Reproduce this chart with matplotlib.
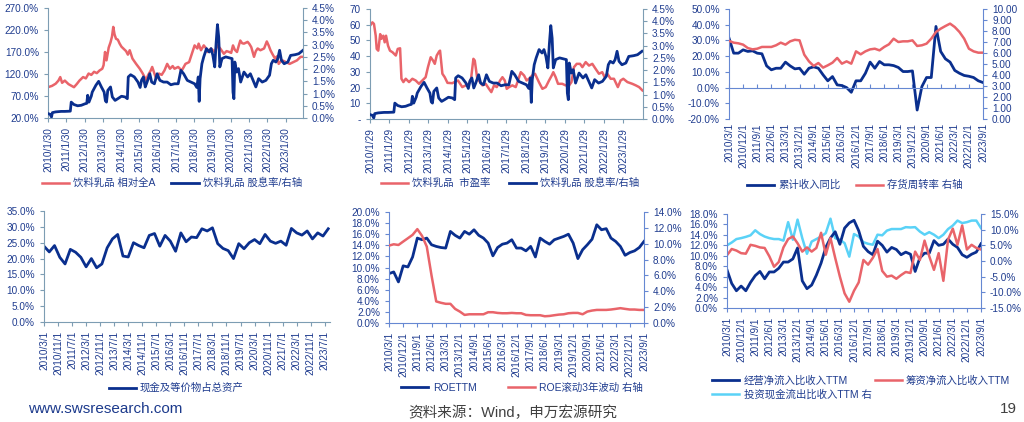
import matplotlib
matplotlib.use("Agg")
import matplotlib.pyplot as plt
import numpy as np
from matplotlib.ticker import FuncFormatter, MultipleLocator, FixedLocator

plt.rcParams['font.family'] = ['Liberation Sans', 'Noto Sans CJK SC', 'DejaVu Sans']

# ---------------- DATA ----------------
# Chart 1/2 : weekly series (decimal year, value)
yield_t = [2010.08, 2010.2, 2010.27, 2010.32, 2010.5, 2010.8, 2011.0, 2011.3, 2011.35, 2011.5, 2011.7, 2011.9,
           2012.1, 2012.2, 2012.25, 2012.32, 2012.45, 2012.5, 2012.7, 2012.85, 2013.0, 2013.15, 2013.22, 2013.28,
           2013.35, 2013.5, 2013.6, 2013.75, 2013.9, 2014.1, 2014.3, 2014.42, 2014.47, 2014.6, 2014.8, 2015.0,
           2015.12, 2015.2, 2015.3, 2015.4, 2015.5, 2015.65, 2015.75, 2015.9, 2016.05, 2016.2, 2016.4, 2016.6,
           2016.8, 2017.0, 2017.2, 2017.35, 2017.5, 2017.7, 2017.9, 2018.1, 2018.22, 2018.3, 2018.35, 2018.4,
           2018.5, 2018.6, 2018.75, 2018.9, 2019.0, 2019.1, 2019.2, 2019.28, 2019.35, 2019.42, 2019.48, 2019.6,
           2019.8, 2020.0, 2020.15, 2020.2, 2020.25, 2020.3, 2020.4, 2020.5, 2020.62, 2020.8, 2021.0, 2021.15,
           2021.3, 2021.45, 2021.6, 2021.8, 2022.0, 2022.2, 2022.3, 2022.4, 2022.55, 2022.65, 2022.75, 2022.85,
           2023.0, 2023.2, 2023.35, 2023.6, 2023.8, 2024.03]
yield_v = [0.18, 0.15, 0.04, 0.22, 0.25, 0.27, 0.27, 0.28, 0.65, 0.55, 0.50, 0.52,
           0.58, 0.60, 0.93, 0.65, 0.90, 1.06, 1.34, 1.50, 1.27, 1.06, 0.70, 0.65,
           1.13, 1.27, 0.86, 0.72, 0.79, 0.89, 0.86, 0.79, 1.68, 1.77, 1.68, 1.47,
           1.25, 1.55, 1.68, 1.27, 1.47, 1.81, 1.47, 1.40, 1.81, 1.54, 1.47, 1.47,
           1.36, 1.40, 1.40, 1.95, 1.81, 1.54, 1.47, 1.40, 1.25, 1.68, 0.68, 1.61,
           2.22, 2.50, 2.84, 2.70, 2.84, 2.56, 2.09, 3.10, 3.82, 3.30, 2.09, 2.43,
           2.50, 2.46, 2.43, 1.06, 0.79, 2.29, 1.88, 2.02, 1.47, 1.88, 1.68, 1.81,
           1.54, 1.27, 1.61, 1.47, 1.54, 1.75, 2.22, 2.36, 2.29, 2.43, 2.77, 2.36,
           2.22, 2.29, 2.56, 2.59, 2.63, 2.77]

rel_t = [2010.08, 2010.3, 2010.5, 2010.65, 2010.75, 2010.85, 2011.0, 2011.2, 2011.5, 2011.65, 2011.8, 2012.0,
         2012.15, 2012.3, 2012.45, 2012.6, 2012.75, 2012.9, 2013.05, 2013.12, 2013.2, 2013.28, 2013.4, 2013.5,
         2013.58, 2013.65, 2013.72, 2013.8, 2013.9, 2014.0, 2014.1, 2014.2, 2014.35, 2014.45, 2014.55, 2014.7,
         2014.9, 2015.1, 2015.25, 2015.35, 2015.45, 2015.55, 2015.7, 2015.78, 2015.9, 2016.0, 2016.15, 2016.3,
         2016.45, 2016.6, 2016.75, 2016.9, 2017.0, 2017.2, 2017.4, 2017.6, 2017.8, 2017.95, 2018.1, 2018.25,
         2018.32, 2018.45, 2018.6, 2018.7, 2018.8, 2019.0, 2019.2, 2019.35, 2019.5, 2019.7, 2019.85, 2020.0,
         2020.1, 2020.2, 2020.3, 2020.42, 2020.52, 2020.6, 2020.7, 2020.8, 2021.0, 2021.1, 2021.2, 2021.35,
         2021.45, 2021.55, 2021.7, 2021.9, 2022.05, 2022.15, 2022.25, 2022.35, 2022.5, 2022.6, 2022.7, 2022.8,
         2022.9, 2023.1, 2023.3, 2023.5, 2023.7, 2023.9, 2024.03]
rel_v = [90, 93, 98, 105, 113, 100, 105, 97, 90, 97, 105, 113,
         110, 121, 118, 125, 122, 128, 132, 140, 170, 151, 180, 192,
         205, 227, 210, 200, 198, 189, 182, 178, 172, 164, 174, 155,
         143, 132, 122, 114, 106, 117, 128, 136, 121, 109, 121, 118,
         128, 143, 132, 138, 132, 136, 128, 143, 147, 166, 185, 178,
         189, 174, 185, 180, 170, 178, 170, 185, 178, 166, 172, 170,
         168, 185, 175, 170, 185, 196, 190, 189, 193, 188, 181, 159,
         172, 178, 174, 178, 194, 185, 174, 166, 155, 160, 143, 148,
         151, 147, 143, 147, 151, 159, 159]

pe_t = [2010.08, 2010.2, 2010.28, 2010.37, 2010.42, 2010.5, 2010.6, 2010.66, 2010.76, 2010.83, 2010.9, 2011.0,
        2011.1, 2011.23, 2011.4, 2011.5, 2011.62, 2011.69, 2011.79, 2011.91, 2012.08, 2012.25, 2012.42, 2012.59,
        2012.76, 2012.93, 2013.05, 2013.19, 2013.31, 2013.4, 2013.5, 2013.62, 2013.67, 2013.79, 2013.91, 2014.05,
        2014.3, 2014.47, 2014.59, 2014.81, 2014.99, 2015.16, 2015.26, 2015.38, 2015.45, 2015.58, 2015.72, 2015.84,
        2016.01, 2016.18, 2016.3, 2016.44, 2016.58, 2016.75, 2016.87, 2016.99, 2017.09, 2017.21, 2017.38, 2017.55,
        2017.67, 2017.81, 2017.98, 2018.11, 2018.23, 2018.4, 2018.54, 2018.74, 2018.92, 2019.09, 2019.26, 2019.4,
        2019.48, 2019.6, 2019.72, 2019.94, 2020.11, 2020.29, 2020.41, 2020.54, 2020.68, 2020.85, 2020.97, 2021.14,
        2021.31, 2021.48, 2021.65, 2021.82, 2021.99, 2022.11, 2022.25, 2022.42, 2022.59, 2022.79, 2022.93, 2023.07,
        2023.28, 2023.53, 2023.71, 2023.88, 2024.05]
pe_v = [59.4, 61.5, 60.5, 53.0, 44.6, 43.5, 54.0, 51.0, 53.0, 48.8, 53.0, 46.7,
        43.5, 42.5, 40.4, 44.6, 45.0, 25.6, 23.5, 25.6, 23.5, 25.6, 24.5, 22.4,
        24.5, 26.6, 33.0, 39.3, 37.2, 35.1, 40.4, 42.9, 43.5, 28.8, 26.6, 23.0,
        22.8, 23.9, 24.5, 20.3, 21.4, 22.4, 25.6, 38.3, 37.2, 25.6, 23.5, 21.4,
        22.4, 19.2, 17.1, 21.4, 20.3, 24.5, 26.6, 24.5, 19.2, 20.3, 21.4, 20.3,
        24.5, 29.8, 27.7, 24.5, 25.6, 27.7, 28.8, 23.5, 19.2, 20.3, 24.5, 27.7,
        29.8, 26.6, 22.4, 22.4, 21.4, 21.4, 23.5, 33.0, 35.1, 35.1, 33.0, 36.2,
        34.0, 35.1, 31.9, 28.8, 29.8, 26.6, 28.8, 25.6, 25.6, 20.3, 24.5, 25.6,
        23.5, 22.4, 21.4, 20.3, 18.2]

# Quarterly series, 2010/3 .. 2023/9 (55 quarters)
rev_yoy = [31.5, 21.9, 21.9, 24.0, 23.0, 23.4, 21.9, 21.5, 13.8, 11.3, 12.3, 12.3, 16.2, 13.8, 11.9, 12.3,
           8.5, 12.3, 13.2, 12.3, 8.1, 4.3, 7.0, 1.7, 1.3, 0.0, -3.0, 4.3, 4.3, 9.1, 16.2, 12.3, 16.6, 14.5,
           14.5, 14.0, 12.8, 10.2, 10.2, 10.6, -14.3, 0.6, 6.4, 6.4, 38.9, 23.0, 18.3, 16.2, 10.9, 9.1, 7.7,
           7.2, 6.4, 4.3, 3.2]
inv_turn = [7.10, 6.94, 6.88, 6.76, 6.45, 6.33, 6.39, 6.55, 6.55, 6.55, 6.70, 6.94, 6.76, 7.06, 7.20, 7.15,
            5.85, 5.24, 4.82, 5.09, 4.67, 4.88, 5.12, 5.55, 5.03, 5.24, 5.03, 6.15, 5.88, 6.15, 6.33, 6.39,
            6.24, 6.55, 6.79, 7.30, 7.00, 7.06, 7.06, 7.15, 6.64, 6.70, 6.85, 7.30, 7.91, 8.21, 8.45, 8.67,
            8.36, 7.91, 7.30, 6.39, 6.15, 6.03, 6.03]
cash_ratio = [23.9, 22.1, 24.1, 20.4, 18.3, 22.9, 22.0, 20.4, 17.4, 20.0, 17.1, 18.3, 23.4, 26.2, 27.6, 20.8,
              20.5, 25.0, 24.1, 23.4, 27.3, 27.9, 23.9, 27.3, 25.5, 22.3, 28.1, 25.3, 26.8, 26.6, 29.4, 28.7,
              29.7, 24.7, 23.2, 22.5, 20.0, 24.7, 23.1, 25.0, 26.0, 24.7, 27.6, 25.5, 24.8, 25.5, 24.2, 29.5,
              28.1, 27.4, 28.7, 26.2, 28.1, 27.1, 29.4]
roe_ttm = [8.9, 9.2, 7.4, 10.3, 10.1, 11.9, 15.3, 15.0, 15.3, 14.1, 13.8, 13.6, 13.5, 16.5, 15.8, 15.3,
           16.5, 16.0, 16.8, 15.8, 15.3, 14.4, 12.1, 13.6, 14.2, 14.4, 15.0, 13.5, 13.5, 13.0, 13.8, 11.9,
           15.3, 14.7, 14.2, 15.0, 15.3, 15.6, 16.0, 14.4, 11.6, 13.2, 14.1, 15.1, 17.7, 16.8, 17.0, 15.3,
           14.7, 13.8, 12.2, 12.7, 13.0, 13.6, 14.7]
roe_vol = [9.76, 9.93, 9.84, 10.27, 10.69, 11.12, 11.84, 10.99, 9.63, 6.02, 2.72, 2.55, 2.42, 2.42, 1.78, 1.44,
           1.02, 1.10, 1.10, 1.10, 1.10, 1.36, 1.36, 1.27, 1.23, 1.23, 1.27, 1.23, 1.23, 1.02, 0.98, 0.98,
           0.98, 0.85, 0.89, 0.98, 1.06, 1.10, 1.23, 1.27, 1.27, 1.10, 1.44, 1.57, 1.65, 1.65, 1.65, 1.70,
           1.78, 1.87, 1.78, 1.70, 1.70, 1.65, 1.65]
ocf_ratio = [7.3, 4.7, 3.3, 4.2, 3.3, 4.9, 6.2, 7.0, 5.6, 6.9, 6.9, 7.6, 8.8, 8.8, 9.4, 11.5,
             5.2, 3.7, 4.4, 6.3, 8.6, 11.6, 13.4, 14.6, 12.2, 15.3, 16.3, 16.8, 14.8, 11.8, 10.8, 10.2,
             12.8, 12.0, 10.7, 11.6, 11.2, 10.2, 10.7, 10.3, 7.0, 9.6, 10.5, 10.5, 12.9, 12.0, 12.2, 13.2,
             12.2, 11.6, 10.2, 9.7, 10.3, 10.7, 12.3]
fin_ratio = [10.1, 11.3, 11.0, 10.5, 10.4, 12.1, 11.9, 11.6, 11.5, 9.9, 7.9, 8.8, 11.6, 13.2, 13.7, 12.4,
             10.8, 11.6, 10.8, 11.5, 14.4, 10.2, 13.4, 9.6, 6.0, 2.8, 1.2, 3.3, 4.9, 9.2, 8.3, 9.6,
             11.3, 7.1, 6.0, 6.2, 5.6, 6.3, 6.9, 6.7, 10.8, 9.2, 12.9, 9.9, 7.3, 10.5, 5.2, 13.1,
             15.2, 12.1, 15.8, 11.2, 12.1, 11.5, 11.2]
inv_ratio = [5.0, 5.9, 7.0, 7.3, 7.7, 8.2, 9.8, 8.6, 7.8, 7.3, 7.0, 7.0, 6.5, 12.4, 6.8, 13.2,
             7.3, 2.3, 6.2, 7.0, 7.8, 8.9, 13.5, 7.3, 6.8, 5.7, 1.4, 8.6, 7.8, 6.0, 5.5, 5.2,
             8.4, 8.2, 9.7, 10.2, 10.2, 10.2, 10.8, 10.7, 10.8, 9.4, 8.4, 9.2, 8.4, 7.3, 8.4, 10.2,
             11.3, 12.9, 12.1, 12.4, 12.9, 12.9, 10.5]

# ---------------- STYLE ----------------
W, H = 1024, 422
NAVY = '#0a2f8e'
RED = '#e9646a'
LBLUE = '#5ad2f7'
TXT = '#1f3c8f'
SPINE1 = '#7d9db3'
SPINE2 = '#6688d2'
FS = 7.2

fig = plt.figure(figsize=(W / 100, H / 100), dpi=100)


def box(l, r, t, b):
    return [l / W, 1 - b / H, (r - l) / W, (b - t) / H]


def style(ax, spine_col, right=None):
    for s in ['top', 'right']:
        ax.spines[s].set_visible(False)
    ax.spines['left'].set_color(spine_col)
    ax.spines['bottom'].set_color(spine_col)
    ax.tick_params(axis='both', colors=spine_col, labelcolor=TXT, labelsize=FS, length=3, width=0.8)
    if right is not None:
        for s in ['top', 'left', 'bottom']:
            right.spines[s].set_visible(False)
        right.spines['right'].set_color(spine_col)
        right.tick_params(axis='y', colors=spine_col, labelcolor=TXT, labelsize=FS, length=3, width=0.8)


pct1 = FuncFormatter(lambda v, p: f"{v:.1f}%")
LEG = dict(frameon=False, fontsize=7.5, handlelength=2.6, handletextpad=0.4, labelcolor=TXT)

# ---- Chart 1 ----
ax1 = fig.add_axes(box(48, 303, 8, 118))
ax1r = ax1.twinx()
l1, = ax1.plot(rel_t, rel_v, color=RED, lw=1.8)
l2, = ax1r.plot(yield_t, yield_v, color=NAVY, lw=2.0)
ax1.set_ylim(20, 270)
ax1.yaxis.set_major_locator(FixedLocator(np.arange(20, 271, 50)))
ax1.yaxis.set_major_formatter(pct1)
ax1r.set_ylim(0, 4.5)
ax1r.yaxis.set_major_locator(MultipleLocator(0.5))
ax1r.yaxis.set_major_formatter(pct1)
ax1.set_xlim(2010 + 29 / 365, 2024.03)
yrs = np.arange(2010, 2024)
ax1.set_xticks(yrs + 29 / 365)
ax1.set_xticklabels([f"{y}/1/30" for y in yrs], rotation=90)
style(ax1, SPINE1, ax1r)
fig.legend([l1, l2], ['饮料乳品 相对全A', '饮料乳品 股息率/右轴'], loc='center', ncol=2,
           bbox_to_anchor=(172 / W, 1 - 183 / H), columnspacing=1.5, **LEG)

# ---- Chart 2 ----
ax2 = fig.add_axes(box(370, 643, 9, 119))
ax2r = ax2.twinx()
m1, = ax2.plot(pe_t, pe_v, color=RED, lw=1.8)
m2, = ax2r.plot(yield_t, yield_v, color=NAVY, lw=2.0)
ax2.set_ylim(0, 70)
ax2.yaxis.set_major_locator(MultipleLocator(10))
ax2.yaxis.set_major_formatter(FuncFormatter(lambda v, p: '-' if abs(v) < 1e-9 else f"{v:.0f}"))
ax2r.set_ylim(0, 4.5)
ax2r.yaxis.set_major_locator(MultipleLocator(0.5))
ax2r.yaxis.set_major_formatter(pct1)
ax2.set_xlim(2010 + 28 / 365, 2024.08)
ax2.set_xticks(yrs + 28 / 365)
ax2.set_xticklabels([f"{y}/1/29" for y in yrs], rotation=90)
style(ax2, SPINE1, ax2r)
fig.legend([m1, m2], ['饮料乳品  市盈率', '饮料乳品 股息率/右轴'], loc='center', ncol=2,
           bbox_to_anchor=(510 / W, 1 - 183 / H), columnspacing=1.8, **LEG)

# quarterly labels
def qlabel(i):
    y = 2010 + (2 + 3 * i) // 12
    m = (2 + 3 * i) % 12 + 1
    return f"{y}/{m}/1"

qx = np.arange(55)
q9 = qx[::3]

# ---- Chart 3 ----
ax3 = fig.add_axes(box(729, 983, 9, 119))
ax3r = ax3.twinx()
n1, = ax3.plot(qx, rev_yoy, color=NAVY, lw=2.0)
n2, = ax3r.plot(qx, inv_turn, color=RED, lw=1.8)
ax3.set_ylim(-20, 50)
ax3.yaxis.set_major_locator(MultipleLocator(10))
ax3.yaxis.set_major_formatter(pct1)
ax3r.set_ylim(0, 10)
ax3r.yaxis.set_major_locator(MultipleLocator(1))
ax3r.yaxis.set_major_formatter(FuncFormatter(lambda v, p: f"{v:.2f}"))
ax3.set_xlim(0, 54)
style(ax3, SPINE2, ax3r)
ax3.spines['bottom'].set_position(('data', 0))
ax3.set_xticks(q9)
ax3.tick_params(axis='x', labelbottom=False, direction='in', length=3)
sec = ax3.secondary_xaxis(-0.0)
sec.spines['bottom'].set_visible(False)
sec.set_xticks(q9)
sec.set_xticklabels([qlabel(i) for i in q9], rotation=90)
sec.tick_params(axis='x', length=0, labelsize=FS, labelcolor=TXT, pad=3)
fig.legend([n1, n2], ['累计收入同比', '存货周转率 右轴'], loc='center', ncol=2,
           bbox_to_anchor=(855 / W, 1 - 185 / H), columnspacing=1.5, **LEG)

# ---- Chart 4 ----
ax4 = fig.add_axes(box(44, 330, 211, 322))
mx = np.arange(55) * 3
p1, = ax4.plot(mx, cash_ratio, color=NAVY, lw=2.0)
ax4.set_ylim(0, 35)
ax4.yaxis.set_major_locator(MultipleLocator(5))
ax4.yaxis.set_major_formatter(pct1)
ax4.set_xlim(0, 163)
m8 = np.arange(0, 161, 8)
ax4.set_xticks(m8)
ax4.set_xticklabels([f"{2010 + (2 + m) // 12}/{(2 + m) % 12 + 1}/1" for m in m8], rotation=90)
style(ax4, SPINE1)
fig.legend([p1], ['现金及等价物占总资产'], loc='center', ncol=1,
           bbox_to_anchor=(176 / W, 1 - 388 / H), **LEG)

# ---- Chart 5 ----
ax5 = fig.add_axes(box(389, 644, 212, 323))
ax5r = ax5.twinx()
r1, = ax5.plot(qx, roe_ttm, color=NAVY, lw=2.0)
r2, = ax5r.plot(qx, roe_vol, color=RED, lw=1.8)
ax5.set_ylim(0, 20)
ax5.yaxis.set_major_locator(MultipleLocator(2))
ax5.yaxis.set_major_formatter(pct1)
ax5r.set_ylim(0, 14)
ax5r.yaxis.set_major_locator(MultipleLocator(2))
ax5r.yaxis.set_major_formatter(pct1)
ax5.set_xlim(0, 54)
ax5.set_xticks(q9)
ax5.set_xticklabels([qlabel(i) for i in q9], rotation=90)
style(ax5, SPINE2, ax5r)
fig.legend([r1, r2], ['ROETTM', 'ROE滚动3年波动 右轴'], loc='center', ncol=2,
           bbox_to_anchor=(522 / W, 1 - 388 / H), columnspacing=3.0, **LEG)

# ---- Chart 6 ----
ax6 = fig.add_axes(box(727, 981, 214, 308))
ax6r = ax6.twinx()
s1, = ax6.plot(qx, ocf_ratio, color=NAVY, lw=2.0)
s2, = ax6.plot(qx, fin_ratio, color=RED, lw=1.8)
s3, = ax6r.plot(qx, inv_ratio, color=LBLUE, lw=1.8)
ax6r.set_zorder(ax6.get_zorder() - 1)
ax6.patch.set_visible(False)
ax6.set_ylim(0, 18)
ax6.yaxis.set_major_locator(MultipleLocator(2))
ax6.yaxis.set_major_formatter(pct1)
ax6r.set_ylim(-15, 15)
ax6r.yaxis.set_major_locator(MultipleLocator(5))
ax6r.yaxis.set_major_formatter(pct1)
ax6.set_xlim(0, 54)
ax6.set_xticks(q9)
ax6.set_xticklabels([qlabel(i) for i in q9], rotation=90)
style(ax6, SPINE2, ax6r)
fig.legend([s1, s3, s2], ['经营净流入比收入TTM', '投资现金流出比收入TTM 右', '筹资净流入比收入TTM'],
           loc='upper left', ncol=2, bbox_to_anchor=(703 / W, 1 - 366 / H), columnspacing=0.3,
           labelspacing=0.35, **LEG)

# ---- footer ----
fig.text(28 / W, 1 - 409 / H, 'www.swsresearch.com', fontsize=11, color='#1c3a8c', va='center', ha='left')
fig.text(513 / W, 1 - 413 / H, '资料来源：Wind，申万宏源研究', fontsize=10.5, color='#404040',
         va='center', ha='center')
fig.text(1008 / W, 1 - 409 / H, '19', fontsize=11, color='#404040', va='center', ha='center')

fig.savefig('out.png', dpi=100)
